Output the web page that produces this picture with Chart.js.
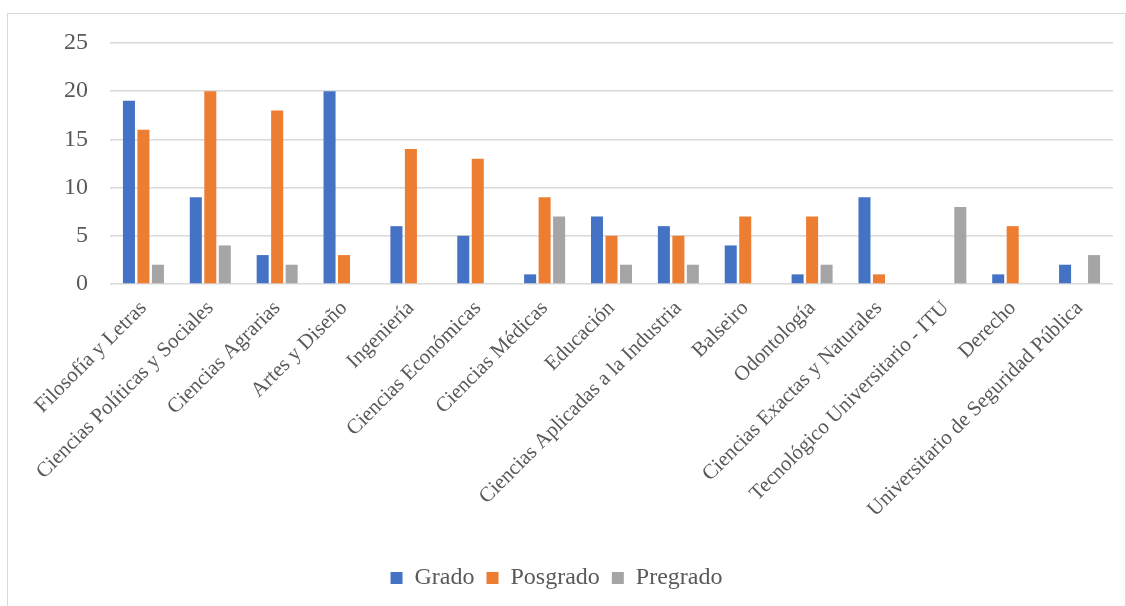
<!DOCTYPE html>
<html>
<head>
<meta charset="utf-8">
<script src="https://cdn.jsdelivr.net/npm/chart.js@4.4.0/dist/chart.umd.min.js"></script>
<style>
  html, body { margin: 0; padding: 0; background: #fff; overflow: hidden; }
  #frame { position: absolute; left: 7px; top: 13px; width: 1117px; height: 640px; border: 1px solid #d9d9d9; }
  #wrap { position: absolute; left: 0; top: 0; width: 1126px; height: 606px; }
</style>
</head>
<body>
<div id="frame"></div>
<div id="wrap"><canvas id="chart" width="1126" height="606"></canvas></div>
<script>
const categories = [
  'Filosofía y Letras',
  'Ciencias Políticas y Sociales',
  'Ciencias Agrarias',
  'Artes y Diseño',
  'Ingeniería',
  'Ciencias Económicas',
  'Ciencias Médicas',
  'Educación',
  'Ciencias Aplicadas a la Industria',
  'Balseiro',
  'Odontología',
  'Ciencias Exactas y Naturales',
  'Tecnológico Universitario - ITU',
  'Derecho',
  'Universitario de Seguridad Pública'
];
const grado    = [19, 9, 3, 20, 6, 5, 1, 7, 6, 4, 1, 9, 0, 1, 2];
const posgrado = [16, 20, 18, 3, 14, 13, 9, 5, 5, 7, 7, 1, 0, 6, 0];
const pregrado = [2, 4, 2, 0, 0, 0, 7, 2, 2, 0, 2, 0, 8, 0, 3];
const yTicks = [0, 5, 10, 15, 20, 25];

const textColor = '#595959';
const gridColor = '#d9d9d9';
const serif = "'Liberation Serif', 'DejaVu Serif', serif";

const barOpts = { categoryPercentage: 0.65, barPercentage: 0.83, borderWidth: 0 };

new Chart(document.getElementById('chart'), {
  type: 'bar',
  data: {
    labels: categories,
    datasets: [
      Object.assign({ label: 'Grado', data: grado, backgroundColor: '#4472c4' }, barOpts),
      Object.assign({ label: 'Posgrado', data: posgrado, backgroundColor: '#ed7d31' }, barOpts),
      Object.assign({ label: 'Pregrado', data: pregrado, backgroundColor: '#a5a5a5' }, barOpts)
    ]
  },
  options: {
    responsive: false,
    animation: false,
    layout: { padding: { left: 0, right: 13, top: 43, bottom: 6 } },
    plugins: {
      tooltip: { enabled: false },
      legend: {
        position: 'bottom',
        labels: {
          color: textColor,
          font: { family: serif, size: 24 },
          boxWidth: 12,
          boxHeight: 12,
          padding: 12
        }
      }
    },
    scales: {
      x: {
        grid: { display: false, drawTicks: false },
        border: { display: false },
        ticks: {
          color: textColor,
          font: { family: serif, size: 21 },
          minRotation: 45,
          maxRotation: 45,
          autoSkip: false,
          padding: 12
        },
        afterFit: (s) => { s.height = 270; }
      },
      y: {
        min: 0,
        max: 25,
        afterBuildTicks: (s) => { s.ticks = yTicks.map(v => ({ value: v })); },
        grid: { color: gridColor, lineWidth: 1.5, drawTicks: false },
        border: { display: false },
        ticks: {
          color: textColor,
          font: { family: serif, size: 24 },
          padding: 22
        },
        afterFit: (s) => { s.width = 110; }
      }
    }
  }
});
</script>
</body>
</html>
